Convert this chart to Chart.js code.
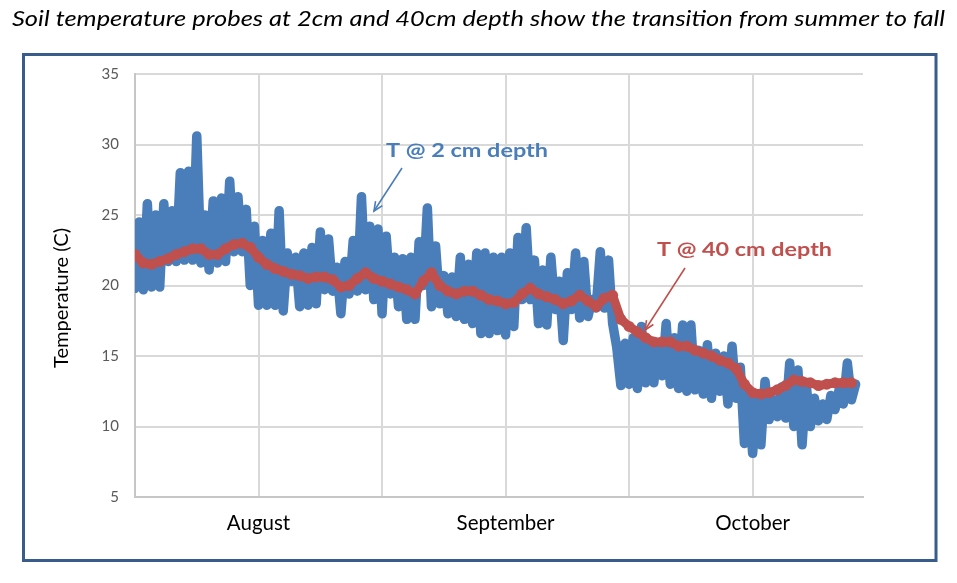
<!DOCTYPE html>
<html>
<head>
<meta charset="utf-8">
<script src="https://cdn.jsdelivr.net/npm/chart.js@4.4.0/dist/chart.umd.min.js"></script>
<style>
    html, body { margin: 0; padding: 0; background: #fff; }
    #wrap { position: relative; width: 957px; height: 583px; }
</style>
</head>
<body>
<div id="wrap"><canvas id="soilChart" width="957" height="583"></canvas></div>
<script>
// one value per day, day 0 ~ mid July
const dailyHigh2cm = [
    24.5, 25.8, 25.0, 25.8, 25.3, 28.0, 28.1, 30.6, 25.0, 26.0,
    26.2, 27.4, 26.3, 25.4, 24.2, 23.2, 23.7, 25.3, 22.3, 22.0,
    22.3, 22.7, 23.8, 23.3, 21.3, 21.7, 23.2, 26.3, 24.2, 24.0,
    23.5, 22.0, 21.9, 22.0, 23.1, 25.5, 22.8, 20.7, 20.6, 22.0,
    21.5, 22.3, 22.3, 22.0, 22.0, 22.3, 23.4, 24.1, 21.8, 21.1,
    22.0, 20.3, 20.9, 22.3, 21.7, 19.0, 22.4, 21.8, 15.6, 15.9,
    16.3, 17.1, 16.0, 15.9, 17.3, 16.3, 17.2, 17.2, 15.4, 15.8,
    15.2, 15.0, 15.7, 14.2, 12.2, 11.8, 13.2, 11.9, 12.8, 14.5,
    14.0, 13.0, 12.0, 11.6, 12.2, 12.6, 14.5, 13.0
];
const dailyLow2cm = [
    19.8, 19.7, 19.9, 19.9, 21.7, 21.7, 21.8, 21.8, 21.6, 21.1,
    21.6, 21.7, 22.4, 22.4, 20.0, 18.6, 18.6, 18.6, 18.2, 20.3,
    18.5, 18.6, 18.7, 19.7, 19.6, 18.0, 19.4, 19.6, 19.7, 19.0,
    18.0, 19.4, 18.5, 17.6, 17.6, 20.0, 18.5, 18.7, 18.0, 17.8,
    17.6, 17.3, 16.6, 16.6, 16.8, 16.5, 17.1, 19.0, 19.0, 17.3,
    17.2, 18.3, 16.1, 18.3, 17.7, 17.8, 18.4, 18.4, 17.3, 12.9,
    13.0, 12.7, 13.1, 13.1, 13.6, 13.0, 12.7, 12.5, 12.6, 12.3,
    12.0, 12.5, 11.6, 12.0, 8.8, 8.1, 8.7, 10.5, 10.7, 10.6,
    10.0, 8.7, 10.0, 10.4, 10.5, 11.2, 11.6, 11.9
];
const daily40cm = [
    22.2, 21.6, 21.5, 21.7, 21.9, 22.2, 22.4, 22.6, 22.6, 22.2,
    22.2, 22.6, 22.9, 23.0, 22.7, 22.0, 21.5, 21.2, 21.0, 20.8,
    20.7, 20.5, 20.6, 20.6, 20.4, 19.9, 20.0, 20.5, 20.9, 20.5,
    20.3, 20.1, 19.9, 19.7, 19.4, 20.3, 20.9, 20.0, 19.6, 19.4,
    19.6, 19.6, 19.3, 19.0, 18.9, 18.7, 18.8, 19.4, 19.8, 19.4,
    19.2, 19.0, 18.7, 18.9, 19.3, 18.9, 18.5, 19.1, 19.3, 17.6,
    17.1, 16.7, 16.3, 16.0, 16.0, 16.0, 15.7, 15.7, 15.4, 15.2,
    15.0, 14.7, 14.5, 14.1, 13.0, 12.4, 12.3, 12.4, 12.6, 12.9,
    13.3, 13.2, 13.1, 12.9, 13.0, 13.1, 13.1, 13.1
];
const gridDays = [0, 15, 30, 45, 60, 75];
const monthTicks = [15, 45, 75];
const monthLabels = ['August', 'September', 'October'];
const yTicks = [5, 10, 15, 20, 25, 30, 35];

const BLUE = '#4A7EBB';
const RED = '#C0504D';

// 2cm probe: night low then afternoon high for each day
const series2cm = [];
dailyLow2cm.forEach((low, d) => {
    series2cm.push({ x: d, y: low });
    series2cm.push({ x: d + 0.5, y: dailyHigh2cm[d] });
});
const series40cm = daily40cm.map((v, d) => ({ x: d, y: v }));

function fitText(ctx, text, x, y, width) {
    const w = ctx.measureText(text).width;
    ctx.save();
    ctx.translate(x, y);
    ctx.scale(width / w, 1);
    ctx.fillText(text, 0, 0);
    ctx.restore();
}

function arrow(ctx, x1, y1, x2, y2, color) {
    ctx.strokeStyle = color;
    ctx.lineWidth = 1.6;
    ctx.beginPath(); ctx.moveTo(x1, y1); ctx.lineTo(x2, y2); ctx.stroke();
    const a = Math.atan2(y2 - y1, x2 - x1), len = 10, spread = 0.42;
    ctx.beginPath();
    ctx.moveTo(x2 - len * Math.cos(a - spread), y2 - len * Math.sin(a - spread));
    ctx.lineTo(x2, y2);
    ctx.lineTo(x2 - len * Math.cos(a + spread), y2 - len * Math.sin(a + spread));
    ctx.stroke();
}

// --- FRAME, TITLES AND CALLOUTS ---
const decor = {
    id: 'decor',
    afterDraw(chart) {
        const ctx = chart.ctx;
        ctx.save();
        ctx.strokeStyle = '#385D8A';
        ctx.lineWidth = 3;
        ctx.strokeRect(23.5, 54.5, 912.5, 506);

        ctx.fillStyle = '#000';
        ctx.textBaseline = 'alphabetic';
        ctx.textAlign = 'center';
        ctx.font = "italic 21px Lato";
        fitText(ctx, 'Soil temperature probes at 2cm and 40cm depth show the transition from summer to fall', 478.5, 26, 933);

        ctx.save();
        ctx.translate(68, 298);
        ctx.rotate(-Math.PI / 2);
        ctx.font = "19.5px Lato";
        fitText(ctx, 'Temperature (C)', 0, 0, 140);
        ctx.restore();

        ctx.textAlign = 'left';
        ctx.font = "bold 19.5px Lato";
        ctx.fillStyle = BLUE;
        fitText(ctx, 'T @ 2 cm depth', 386, 157, 162);
        ctx.fillStyle = RED;
        fitText(ctx, 'T @ 40 cm depth', 657, 256, 175);

        arrow(ctx, 402, 168, 374, 211, BLUE);
        arrow(ctx, 685, 268, 645, 330, RED);
        ctx.restore();
    }
};

new Chart(document.getElementById('soilChart'), {
    type: 'line',
    data: {
        datasets: [
            {
                label: 'T @ 40 cm depth',
                data: series40cm,
                borderColor: RED, backgroundColor: RED,
                borderWidth: 9, pointRadius: 5.5, pointBorderWidth: 0,
                pointBackgroundColor: RED,
                borderJoinStyle: 'round', borderCapStyle: 'round', tension: 0
            },
            {
                label: 'T @ 2 cm depth',
                data: series2cm,
                borderColor: BLUE, backgroundColor: BLUE,
                borderWidth: 9.5, pointRadius: 0,
                borderJoinStyle: 'round', borderCapStyle: 'round', tension: 0
            }
        ]
    },
    options: {
        responsive: false,
        animation: false,
        layout: { padding: { top: 74, right: 94, bottom: 0, left: 0 } },
        plugins: { legend: { display: false }, tooltip: { enabled: false } },
        scales: {
            x: {
                type: 'linear', min: 0, max: 88.4,
                afterBuildTicks: s => { s.ticks = gridDays.map(v => ({ value: v })); },
                afterFit: s => { s.height = 86; },
                ticks: {
                    autoSkip: false, maxRotation: 0, padding: 14,
                    color: '#000', font: { family: 'Lato', size: 20.5 },
                    callback: v => {
                        const i = monthTicks.indexOf(v);
                        return i >= 0 ? monthLabels[i] : '';
                    }
                },
                grid: { color: '#D9D9D9', lineWidth: 2, drawTicks: false },
                border: { color: '#C6C6C6', width: 2 }
            },
            y: {
                min: 5, max: 35,
                afterBuildTicks: s => { s.ticks = yTicks.map(v => ({ value: v })); },
                afterFit: s => { s.width = 135; },
                ticks: { padding: 16, color: '#595959', font: { family: 'Lato', size: 15 } },
                grid: { color: '#D9D9D9', lineWidth: 2, drawTicks: false },
                border: { color: '#C6C6C6', width: 2 }
            }
        }
    },
    plugins: [decor]
});
</script>
</body>
</html>
